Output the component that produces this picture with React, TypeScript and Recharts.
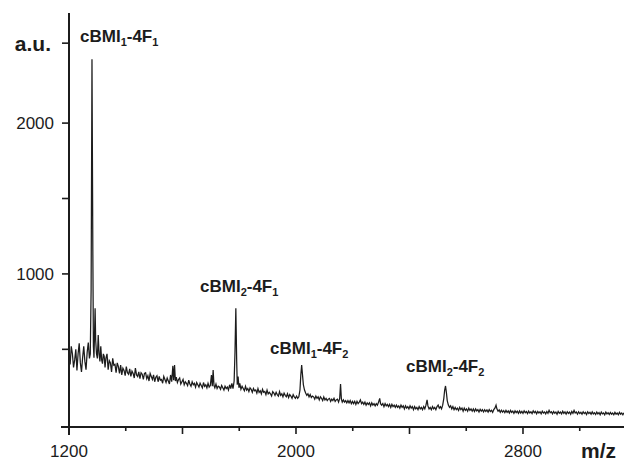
import { LineChart, Line, XAxis, YAxis } from 'recharts';

// MALDI spectrum, [m/z, intensity (a.u.)]
const spectrum: [number, number][] = [
  [1200, 455], [1204, 400], [1208, 520], [1212, 470], [1216, 380], [1220, 430], [1224, 500], [1228, 360],
  [1232, 470], [1236, 540], [1240, 410], [1244, 350], [1248, 445], [1252, 520], [1256, 420], [1260, 365],
  [1264, 480], [1268, 545], [1272, 440], [1275, 470], [1278, 900], [1281, 2423], [1284, 1150], [1286, 520],
  [1288, 445], [1290, 600], [1292, 772], [1294, 560], [1297, 470], [1300, 440], [1303, 595], [1306, 470],
  [1309, 420], [1312, 520], [1315, 430], [1318, 405], [1321, 470], [1324, 455], [1327, 380], [1330, 440],
  [1334, 470], [1338, 365], [1342, 425], [1346, 410], [1350, 350], [1354, 440], [1358, 395], [1362, 400],
  [1366, 345], [1370, 410], [1374, 385], [1378, 340], [1382, 395], [1386, 330], [1390, 375], [1394, 360],
  [1398, 325], [1402, 385], [1406, 345], [1410, 335], [1414, 370], [1418, 320], [1422, 355], [1426, 340],
  [1430, 310], [1434, 375], [1438, 330], [1442, 320], [1446, 350], [1450, 305], [1454, 345], [1458, 335],
  [1462, 300], [1466, 340], [1470, 345], [1474, 305], [1478, 325], [1482, 290], [1486, 340], [1490, 320],
  [1494, 300], [1498, 330], [1502, 285], [1506, 315], [1510, 325], [1514, 285], [1518, 320], [1522, 295],
  [1526, 300], [1530, 275], [1534, 320], [1538, 300], [1542, 280], [1546, 310], [1550, 290], [1554, 270],
  [1558, 330], [1562, 285], [1566, 390], [1569, 295], [1572, 396], [1575, 290], [1578, 315], [1582, 280],
  [1586, 300], [1590, 310], [1594, 270], [1598, 285], [1602, 300], [1606, 265], [1610, 285], [1614, 275],
  [1618, 260], [1622, 295], [1626, 270], [1630, 255], [1634, 285], [1638, 265], [1642, 275], [1646, 250],
  [1650, 280], [1654, 265], [1658, 250], [1662, 275], [1666, 260], [1670, 245], [1674, 280], [1678, 255],
  [1682, 265], [1686, 245], [1690, 275], [1694, 250], [1698, 260], [1702, 330], [1705, 255], [1708, 363],
  [1711, 260], [1714, 245], [1718, 270], [1722, 240], [1726, 255], [1730, 250], [1734, 235], [1738, 260],
  [1742, 245], [1746, 230], [1750, 255], [1754, 240], [1758, 250], [1762, 230], [1766, 265], [1770, 240],
  [1774, 275], [1778, 240], [1782, 290], [1785, 480], [1788, 772], [1791, 420], [1793, 265], [1796, 320],
  [1799, 245], [1802, 275], [1806, 235], [1810, 255], [1814, 240], [1818, 225], [1822, 255], [1826, 230],
  [1830, 240], [1834, 220], [1838, 245], [1842, 235], [1846, 215], [1850, 240], [1854, 225], [1858, 230],
  [1862, 210], [1866, 240], [1870, 215], [1874, 225], [1878, 205], [1882, 235], [1886, 215], [1890, 220],
  [1894, 200], [1898, 230], [1902, 205], [1906, 215], [1910, 205], [1914, 190], [1918, 220], [1922, 210],
  [1926, 195], [1930, 215], [1934, 200], [1938, 190], [1942, 220], [1946, 195], [1950, 205], [1954, 185],
  [1958, 210], [1962, 195], [1966, 185], [1970, 205], [1974, 180], [1978, 200], [1982, 190], [1986, 175],
  [1990, 200], [1994, 185], [1998, 175], [2002, 190], [2006, 175], [2010, 185], [2014, 230], [2017, 330],
  [2020, 396], [2023, 330], [2026, 265], [2030, 230], [2034, 210], [2038, 195], [2042, 205], [2046, 185],
  [2050, 200], [2054, 180], [2058, 190], [2062, 185], [2066, 170], [2070, 190], [2074, 175], [2078, 185],
  [2082, 165], [2086, 185], [2090, 175], [2094, 160], [2098, 185], [2102, 165], [2106, 175], [2110, 160],
  [2114, 170], [2118, 175], [2122, 155], [2126, 170], [2130, 160], [2134, 175], [2138, 155], [2142, 165],
  [2146, 170], [2150, 150], [2154, 175], [2157, 270], [2160, 170], [2163, 150], [2167, 165], [2171, 150],
  [2175, 160], [2179, 145], [2183, 160], [2187, 145], [2191, 160], [2195, 140], [2199, 155], [2203, 140],
  [2207, 155], [2211, 135], [2215, 155], [2219, 140], [2223, 150], [2227, 165], [2231, 140], [2235, 150],
  [2239, 135], [2243, 150], [2247, 130], [2251, 145], [2255, 135], [2259, 145], [2263, 125], [2267, 145],
  [2271, 130], [2275, 140], [2279, 125], [2283, 140], [2287, 130], [2291, 150], [2295, 175], [2298, 140],
  [2302, 130], [2306, 140], [2310, 120], [2314, 140], [2318, 125], [2322, 135], [2326, 120], [2330, 135],
  [2334, 115], [2338, 135], [2342, 120], [2346, 130], [2350, 115], [2354, 130], [2358, 115], [2362, 125],
  [2366, 110], [2370, 130], [2374, 115], [2378, 125], [2382, 105], [2386, 125], [2390, 110], [2394, 120],
  [2398, 105], [2402, 125], [2406, 110], [2410, 120], [2414, 100], [2418, 120], [2422, 105], [2426, 115],
  [2430, 100], [2434, 120], [2438, 105], [2442, 115], [2446, 100], [2450, 120], [2454, 105], [2458, 130],
  [2462, 165], [2465, 125], [2469, 105], [2473, 115], [2477, 100], [2481, 120], [2485, 105], [2489, 115],
  [2493, 100], [2497, 120], [2501, 130], [2505, 110], [2509, 120], [2513, 105], [2517, 130], [2521, 175],
  [2524, 230], [2527, 257], [2530, 215], [2533, 160], [2537, 130], [2541, 115], [2545, 125], [2549, 105],
  [2553, 120], [2557, 100], [2561, 115], [2565, 100], [2569, 110], [2573, 95], [2577, 115], [2581, 100],
  [2585, 110], [2589, 90], [2593, 110], [2597, 95], [2601, 105], [2605, 90], [2609, 110], [2613, 95],
  [2617, 105], [2621, 90], [2625, 105], [2629, 88], [2633, 105], [2637, 92], [2641, 100], [2645, 85],
  [2649, 102], [2653, 90], [2657, 100], [2661, 85], [2665, 100], [2669, 88], [2673, 98], [2677, 84],
  [2681, 100], [2685, 88], [2689, 96], [2693, 82], [2697, 100], [2701, 110], [2705, 130], [2708, 105],
  [2712, 90], [2716, 98], [2720, 82], [2724, 96], [2728, 84], [2732, 94], [2736, 80], [2740, 95],
  [2744, 82], [2748, 92], [2752, 78], [2756, 95], [2760, 82], [2764, 90], [2768, 76], [2772, 92],
  [2776, 80], [2780, 90], [2784, 76], [2788, 92], [2792, 78], [2796, 88], [2800, 75], [2804, 92],
  [2808, 80], [2812, 88], [2816, 74], [2820, 90], [2824, 78], [2828, 86], [2832, 74], [2836, 92],
  [2840, 80], [2844, 88], [2848, 72], [2852, 88], [2856, 78], [2860, 86], [2864, 72], [2868, 90],
  [2872, 78], [2876, 85], [2880, 72], [2884, 88], [2888, 76], [2892, 96], [2896, 80], [2900, 86],
  [2904, 72], [2908, 88], [2912, 76], [2916, 84], [2920, 70], [2924, 88], [2928, 76], [2932, 84],
  [2936, 72], [2940, 90], [2944, 76], [2948, 85], [2952, 70], [2956, 86], [2960, 75], [2964, 84],
  [2968, 70], [2972, 88], [2976, 76], [2980, 95], [2984, 78], [2988, 84], [2992, 70], [2996, 86],
  [3000, 74], [3004, 82], [3008, 70], [3012, 86], [3016, 74], [3020, 82], [3024, 68], [3028, 86],
  [3032, 74], [3036, 82], [3040, 70], [3044, 85], [3048, 72], [3052, 80], [3056, 68], [3060, 84],
  [3064, 72], [3068, 80], [3072, 66], [3076, 84], [3080, 72], [3084, 78], [3088, 66], [3092, 84],
  [3096, 72], [3100, 80], [3104, 68], [3108, 82], [3112, 70], [3116, 78], [3120, 66], [3124, 82],
  [3128, 70], [3132, 78], [3136, 66], [3140, 82], [3144, 70], [3148, 78], [3152, 66], [3156, 80],
];

const xTicks = [1200, 1400, 1600, 1800, 2000, 2200, 2400, 2600, 2800, 3000];
const xMajorTicks = [1200, 1600, 2000, 2400, 2800];
const xLabelled = [1200, 2000, 2800];
const yTicks = [500, 1000, 1500, 2000, 2530];
const yLabelled = [1000, 2000];

// peak assignments: [BMI subscript, F subscript]
const peakNames: [string, string][] = [['1', '1'], ['2', '1'], ['1', '2'], ['2', '2']];

const chartData = spectrum.map(([mz, counts]) => ({ mz, counts }));

const FONT = '"Liberation Sans", Arial, Helvetica, sans-serif';
const INK = '#1c1c1c';

function XTick({ x, y, payload }: any) {
  const v = payload.value;
  const major = xMajorTicks.includes(v);
  return (
    <g>
      <line x1={x} x2={x} y1={y} y2={y + (major ? 7 : 4)} stroke={INK} strokeWidth={1.6} />
      {xLabelled.includes(v) && (
        <text x={x} y={y + 30} textAnchor="middle" fontSize={17} fill={INK} fontFamily={FONT}>
          {v}
        </text>
      )}
    </g>
  );
}

function YTick({ x, y, payload }: any) {
  const v = payload.value;
  const top = v === yTicks[yTicks.length - 1];
  return (
    <g>
      <line x1={x - 7} x2={x} y1={y} y2={y} stroke={INK} strokeWidth={1.6} />
      {yLabelled.includes(v) && (
        <text x={x - 15} y={y} dy="0.35em" textAnchor="end" fontSize={17} fill={INK} fontFamily={FONT}>
          {v}
        </text>
      )}
      {top && (
        <text x={x - 18} y={y + 8} textAnchor="end" fontSize={21} fontWeight="bold" fill={INK} fontFamily={FONT}>
          a.u.
        </text>
      )}
    </g>
  );
}

function PeakLabel({ x, y, names }: { x: number; y: number; names: [string, string] }) {
  return (
    <text x={x} y={y} fontSize={17} fontWeight="bold" fill={INK} fontFamily={FONT}>
      cBMI
      <tspan fontSize={11} dy={4}>{names[0]}</tspan>
      <tspan dy={-4}>-4F</tspan>
      <tspan fontSize={11} dy={4}>{names[1]}</tspan>
    </text>
  );
}

export default function App() {
  return (
    <div style={{ position: 'relative', width: 624, height: 463, background: '#fff' }}>
      <style>{'body{margin:0}'}</style>
      <LineChart width={624} height={463} data={chartData} margin={{ top: 13, right: 0, bottom: 0, left: 0 }}>
        <XAxis
          dataKey="mz"
          type="number"
          domain={[1200, 3156]}
          ticks={xTicks}
          interval={0}
          height={36}
          tickSize={0}
          tickMargin={0}
          tickLine={false}
          tick={<XTick />}
          axisLine={{ stroke: INK, strokeWidth: 2 }}
          allowDataOverflow
        />
        <YAxis
          type="number"
          domain={[-15, 2730]}
          ticks={yTicks}
          interval={0}
          width={69}
          tickSize={0}
          tickMargin={0}
          tickLine={false}
          tick={<YTick />}
          axisLine={{ stroke: INK, strokeWidth: 2 }}
          allowDataOverflow
        />
        <Line
          dataKey="counts"
          type="linear"
          stroke={INK}
          strokeWidth={1.25}
          dot={false}
          isAnimationActive={false}
        />
      </LineChart>
      <svg
        width={624}
        height={463}
        style={{ position: 'absolute', left: 0, top: 0, pointerEvents: 'none' }}
      >
        {/* axes overshoot past the origin */}
        <line x1={61} x2={69} y1={427} y2={427} stroke={INK} strokeWidth={2} />
        <line x1={69} x2={69} y1={427} y2={435} stroke={INK} strokeWidth={2} />
        <PeakLabel x={80} y={42} names={peakNames[0]} />
        <PeakLabel x={200} y={292} names={peakNames[1]} />
        <PeakLabel x={270} y={354} names={peakNames[2]} />
        <PeakLabel x={406} y={372} names={peakNames[3]} />
        <text x={581} y={458} fontSize={21} fontWeight="bold" fill={INK} fontFamily={FONT}>
          m/z
        </text>
      </svg>
    </div>
  );
}
